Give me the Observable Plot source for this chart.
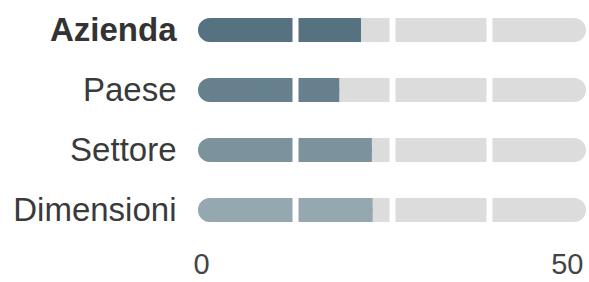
<!DOCTYPE html>
<html>
<head>
<meta charset="utf-8">
<script src="https://cdn.jsdelivr.net/npm/d3@7"></script>
<script src="https://cdn.jsdelivr.net/npm/@observablehq/plot@0.6"></script>
<style>
  html, body { margin: 0; padding: 0; background: #fff; }
  #chart svg { display: block; }
</style>
</head>
<body>
<div id="chart"></div>
<script>
const categories = ["Azienda", "Paese", "Settore", "Dimensioni"];
const values = [21.0, 18.2, 22.4, 22.5];
const colors = ["#56717f", "#66808e", "#7c929d", "#95a7af"];
const maxValue = 50;
const separators = [12.5, 25, 37.5];
const tickValues = [0, 50];

const rows = categories.map((c, i) => ({category: c, value: values[i], color: colors[i], max: maxValue}));
const sepRows = categories.flatMap(c => separators.map(s => ({category: c, x: s})));

const font = "'Liberation Sans', Arial, Helvetica, sans-serif";

const chart = Plot.plot({
  width: 589,
  height: 282,
  marginLeft: 198,
  marginRight: 3,
  marginTop: 0,
  marginBottom: 42,
  style: {fontFamily: font, background: "#fff"},
  x: {domain: [0, maxValue], axis: null},
  y: {domain: categories, paddingInner: 0.6, paddingOuter: 0.3, axis: null},
  marks: [
    Plot.barX(rows, {y: "category", x1: 0, x2: "max", fill: "#dcdcdc", rx: 12}),
    Plot.barX(rows, {y: "category", x1: 0, x2: "value", fill: "color", rx: 12}),
    Plot.barX(rows, {y: "category", x1: d => d.value / 2, x2: "value", fill: "color"}),
    Plot.tickX(sepRows, {x: "x", y: "category", stroke: "#fff", strokeWidth: 6}),
    Plot.text(rows.slice(0, 1), {y: "category", text: "category", frameAnchor: "left", textAnchor: "end", dx: -22, fontSize: 33, fontWeight: "bold", fill: "#333"}),
    Plot.text(rows.slice(1), {y: "category", text: "category", frameAnchor: "left", textAnchor: "end", dx: -22, fontSize: 33, fill: "#3a3a3a"}),
    Plot.text(tickValues.slice(0, 1), {x: d => d, text: d => String(d), frameAnchor: "bottom", textAnchor: "start", dx: -5, dy: 24, lineAnchor: "middle", fontSize: 29, fill: "#444"}),
    Plot.text(tickValues.slice(1), {x: d => d, text: d => String(d), frameAnchor: "bottom", textAnchor: "end", dx: -3, dy: 24, lineAnchor: "middle", fontSize: 29, fill: "#444"})
  ]
});
document.getElementById("chart").appendChild(chart);
</script>
</body>
</html>
